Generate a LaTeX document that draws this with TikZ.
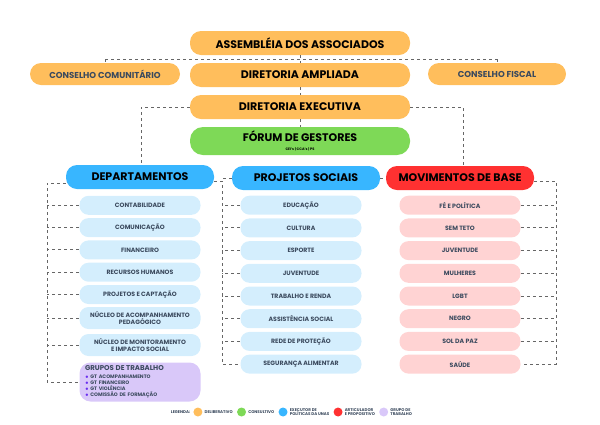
\documentclass[tikz,border=0pt]{standalone}
\usepackage{fontspec}
\setmainfont{Poppins}
\usetikzlibrary{positioning}
\definecolor{delib}{HTML}{FFBE5C}
\definecolor{consul}{HTML}{7ED957}
\definecolor{exec}{HTML}{38B6FF}
\definecolor{artic}{HTML}{FF3131}
\definecolor{gtcol}{HTML}{D9C8F9}
\definecolor{lblue}{HTML}{D4EEFD}
\definecolor{lpink}{HTML}{FFD3D3}
\definecolor{ink}{HTML}{3B4A5E}
\definecolor{dot}{HTML}{6A2DF0}
\tikzset{every picture/.style={line width=0.75pt},
  pill/.style={rounded corners=11pt,minimum height=24pt,inner sep=1pt,align=center,font=\bfseries\fontsize{11}{12}\selectfont},
  head/.style={pill,fill=delib,minimum width=220pt},
  item/.style={rounded corners=9pt,minimum height=19pt,minimum width=121pt,inner sep=1pt,align=center,text=ink,font=\bfseries\fontsize{6.2}{7}\selectfont},
  conn/.style={draw=gray!80!black,dashed,line width=0.9pt},
  legdot/.style={circle,minimum size=9pt,inner sep=0pt},
  legtxt/.style={text=ink,font=\bfseries\fontsize{4}{4.4}\selectfont,align=left,anchor=west,inner sep=0.5pt}}

\begin{document}
\begin{tikzpicture}[x=1pt,y=1pt,yscale=-1]
\useasboundingbox (0,0) rectangle (600,424);

% top levels
\node[head] (asm) at (300,43) {ASSEMBLÉIA DOS ASSOCIADOS};
\node[head] (amp) at (300,75) {DIRETORIA AMPLIADA};
\node[pill,fill=delib,minimum width=150pt,minimum height=22pt,text=ink,font=\bfseries\fontsize{8.6}{10}\selectfont] (ccom) at (105,74) {CONSELHO COMUNITÁRIO};
\node[pill,fill=delib,minimum width=138pt,minimum height=22pt,text=ink,font=\bfseries\fontsize{8.6}{10}\selectfont] (cfis) at (497,74) {CONSELHO FISCAL};
\node[head] (exe) at (300,107) {DIRETORIA EXECUTIVA};
\node[head,fill=consul,minimum height=28pt,rounded corners=13pt] (for) at (300,141) {FÓRUM DE GESTORES\\[-3pt]{\fontsize{3.5}{4}\selectfont CEI's | CCA's | PS}};

% level 3
\node[pill,fill=exec,minimum width=148pt] (dep) at (140,177) {DEPARTAMENTOS};
\node[pill,fill=exec,minimum width=148pt] (proj) at (306,178) {PROJETOS SOCIAIS};
\node[pill,fill=artic,minimum width=148pt] (mov) at (460,178) {MOVIMENTOS DE BASE};

% connectors top
\coordinate (tbar) at (300,59);
\draw[conn] (asm.south) -- (amp.north);
\draw[conn] (tbar -| ccom.north) -- (tbar -| cfis.north);
\draw[conn] (tbar -| ccom.north) -- (ccom.north);
\draw[conn] (tbar -| cfis.north) -- (cfis.north);
\draw[conn] (amp.south) -- (exe.north);
\draw[conn] (exe.south) -- (for.north);
\coordinate (lexe) at (141,107);
\coordinate (rexe) at (463,107);
\draw[conn] (exe.west) -- (lexe) -- (lexe |- dep.north);
\draw[conn] (exe.east) -- (rexe) -- (rexe |- mov.north);

% departamentos
\coordinate (dbus) at (47,183);
\foreach \t [count=\i] in {CONTABILIDADE,COMUNICAÇÃO,FINANCEIRO,RECURSOS HUMANOS,PROJETOS E CAPTAÇÃO}
  \node[item,fill=lblue] (d\i) at (140,{183+22.3*\i}) {\t};
\node[item,fill=lblue,minimum height=22pt] (d6) at (140,318) {NÚCLEO DE ACOMPANHAMENTO\\PEDAGÓGICO};
\node[item,fill=lblue,minimum height=22pt] (d7) at (140,345) {NÚCLEO DE MONITORAMENTO\\E IMPACTO SOCIAL};
\node[item,fill=gtcol,minimum height=39pt,rounded corners=11pt,align=left,text width=110pt,
  font=\bfseries\fontsize{5}{6.2}\selectfont] (d8) at (140,382)
  {{\fontsize{7}{6.2}\selectfont GRUPOS DE TRABALHO}\\[1pt]
   \textcolor{dot}{$\bullet$} GT ACOMPANHAMENTO\\
   \textcolor{dot}{$\bullet$} GT FINANCEIRO\\
   \textcolor{dot}{$\bullet$} GT VIOLÊNCIA\\
   \textcolor{dot}{$\bullet$} COMISSÃO DE FORMAÇÃO};
\draw[conn] (dep.west |- dbus) -- (dbus) -- (dbus |- d8.west) -- (d8.west);
\foreach \i in {1,...,7}
  \draw[conn] (d\i.west) -- (d\i.west -| dbus);

% projetos
\coordinate (pbus) at (222,181);
\foreach \t [count=\i] in {EDUCAÇÃO,CULTURA,ESPORTE,JUVENTUDE,TRABALHO E RENDA,ASSISTÊNCIA SOCIAL,REDE DE PROTEÇÃO,SEGURANÇA ALIMENTAR}
  \node[item,fill=lblue] (p\i) at (301,{182.5+22.7*\i}) {\t};
\draw[conn] (dep.east |- pbus) -- (pbus) -- (pbus |- p8.west) -- (p8.west);
\draw[conn] (proj.west) -- (proj.west -| pbus);
\foreach \i in {1,...,7}
  \draw[conn] (p\i.west) -- (p\i.west -| pbus);
\draw[conn] (proj.east) -- (mov.west);

% movimentos
\coordinate (mbus) at (556,181);
\foreach \t [count=\i] in {FÉ E POLÍTICA,SEM TETO,JUVENTUDE,MULHERES,LGBT,NEGRO,SOL DA PAZ,SAÚDE}
  \node[item,fill=lpink] (m\i) at (460,{182.5+22.7*\i}) {\t};
\draw[conn] (mov.east |- mbus) -- (mbus) -- (mbus |- m8.east) -- (m8.east);
\foreach \i in {1,...,7}
  \draw[conn] (m\i.east) -- (m\i.east -| mbus);

% legenda
\node[legtxt] (leg) at (170,412) {LEGENDA:};
\node[legdot,fill=delib,right=2pt of leg] (l1) {};
\node[legtxt,right=1pt of l1] (t1) {DELIBERATIVO};
\node[legdot,fill=consul,right=3pt of t1] (l2) {};
\node[legtxt,right=1pt of l2] (t2) {CONSULTIVO};
\node[legdot,fill=exec,right=3pt of t2] (l3) {};
\node[legtxt,right=1pt of l3] (t3) {EXECUTOR DE\\POLÍTICAS DA UNAS};
\node[legdot,fill=artic,right=3pt of t3] (l4) {};
\node[legtxt,right=1pt of l4] (t4) {ARTICULADOR\\E PROPOSITIVO};
\node[legdot,fill=gtcol,right=3pt of t4] (l5) {};
\node[legtxt,right=1pt of l5] (t5) {GRUPO DE\\TRABALHO};
\end{tikzpicture}
\end{document}
